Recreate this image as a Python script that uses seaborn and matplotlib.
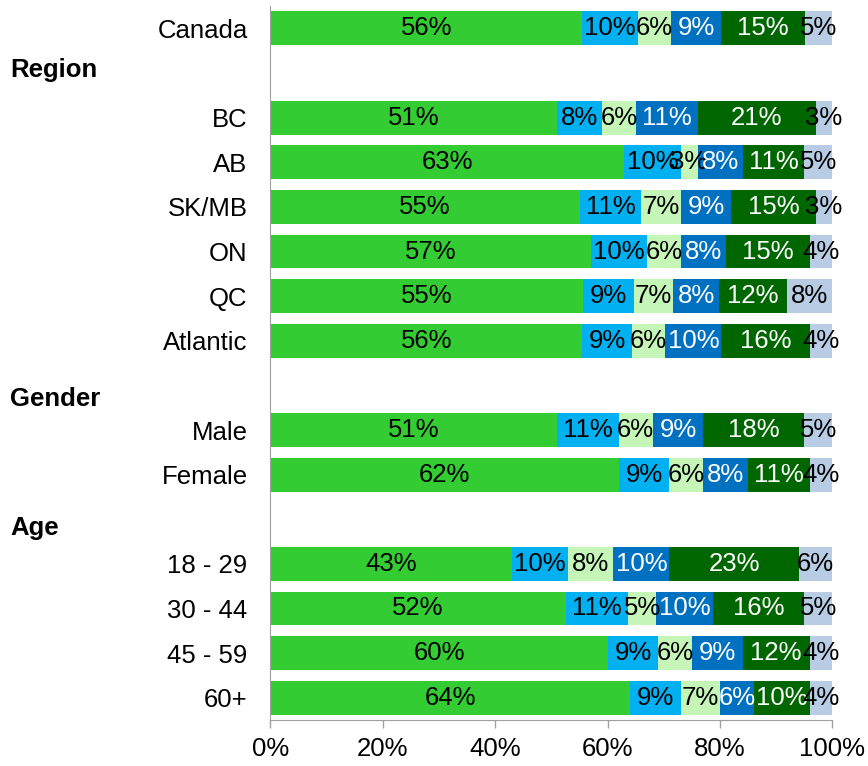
import numpy as np
import pandas as pd
import seaborn as sns
import matplotlib.pyplot as plt
from matplotlib.transforms import blended_transform_factory

# rows of the chart (section headers are empty rows)
rows = ["Canada", "Region", "BC", "AB", "SK/MB", "ON", "QC", "Atlantic",
        "Gender", "Male", "Female", "Age", "18 - 29", "30 - 44", "45 - 59", "60+"]
headers = ["Region", "Gender", "Age"]

groups = ["Canada", "BC", "AB", "SK/MB", "ON", "QC", "Atlantic",
          "Male", "Female", "18 - 29", "30 - 44", "45 - 59", "60+"]
seg1 = [56, 51, 63, 55, 57, 55, 56, 51, 62, 43, 52, 60, 64]
seg2 = [10, 8, 10, 11, 10, 9, 9, 11, 9, 10, 11, 9, 9]
seg3 = [6, 6, 3, 7, 6, 7, 6, 6, 6, 8, 5, 6, 7]
seg4 = [9, 11, 8, 9, 8, 8, 10, 9, 8, 10, 10, 9, 6]
seg5 = [15, 21, 11, 15, 15, 12, 16, 18, 11, 23, 16, 12, 10]
seg6 = [5, 3, 5, 3, 4, 8, 4, 5, 4, 6, 5, 4, 4]

colors = ["#33CC33", "#00B0F0", "#C6F5B8", "#0070C0", "#006600", "#B8CCE4"]
text_colors = ["black", "black", "black", "white", "white", "black"]

sns.set_style("white")
plt.rcParams["font.family"] = ["Liberation Sans", "DejaVu Sans"]
plt.rcParams["text.color"] = "black"

segs = np.array([seg1, seg2, seg3, seg4, seg5, seg6], dtype=float)
# bars are stretched to 100% like the original chart
shares = segs / segs.sum(axis=0) * 100
cum = shares.cumsum(axis=0)
starts = cum - shares

fig, ax = plt.subplots(figsize=(8.68, 7.66), dpi=100)
fig.subplots_adjust(left=0.3116, right=0.959, top=0.992, bottom=0.060)

# stacked bars: draw the cumulative totals from the longest down
for i in range(5, -1, -1):
    df = pd.DataFrame({"group": groups, "value": cum[i]})
    sns.barplot(data=df, x="value", y="group", order=rows, color=colors[i],
                orient="h", width=0.76, saturation=1, ax=ax, errorbar=None,
                linewidth=0)

# value labels
for i in range(6):
    for j, g in enumerate(groups):
        ax.text(starts[i, j] + shares[i, j] / 2, rows.index(g), f"{int(segs[i, j])}%",
                ha="center", va="center", fontsize=18.5, color=text_colors[i])

ax.set_xlim(0, 100)
ax.set_ylim(len(rows) - 0.5, -0.5)
ax.set_xticks([0, 20, 40, 60, 80, 100])
ax.set_xticklabels([f"{v}%" for v in [0, 20, 40, 60, 80, 100]], fontsize=18.5)
ax.set_yticks(range(len(rows)))
ax.set_yticklabels(["" if r in headers else r for r in rows], fontsize=18.5)
ax.set_yticks(np.arange(-0.5, len(rows), 1), minor=True)
ax.tick_params(axis="y", which="major", length=0, pad=16.5, labelcolor="black")
ax.tick_params(axis="y", which="minor", length=6, color="#A0A0A0", width=1, direction="out")
ax.tick_params(axis="x", length=6, color="#A0A0A0", width=1, direction="out", pad=6,
               bottom=True, labelcolor="black")
ax.set_xlabel("")
ax.set_ylabel("")
for s in ["top", "right"]:
    ax.spines[s].set_visible(False)
for s in ["left", "bottom"]:
    ax.spines[s].set_color("#A0A0A0")

# section headers
trans = blended_transform_factory(fig.transFigure, ax.transData)
for name, y in [("Region", 1.085), ("Gender", 8.47), ("Age", 11.36)]:
    ax.text(0.0115, y, name, transform=trans, ha="left", va="baseline",
            fontsize=18.5, fontweight="bold", color="black")

fig.savefig("out.png", dpi=100)
